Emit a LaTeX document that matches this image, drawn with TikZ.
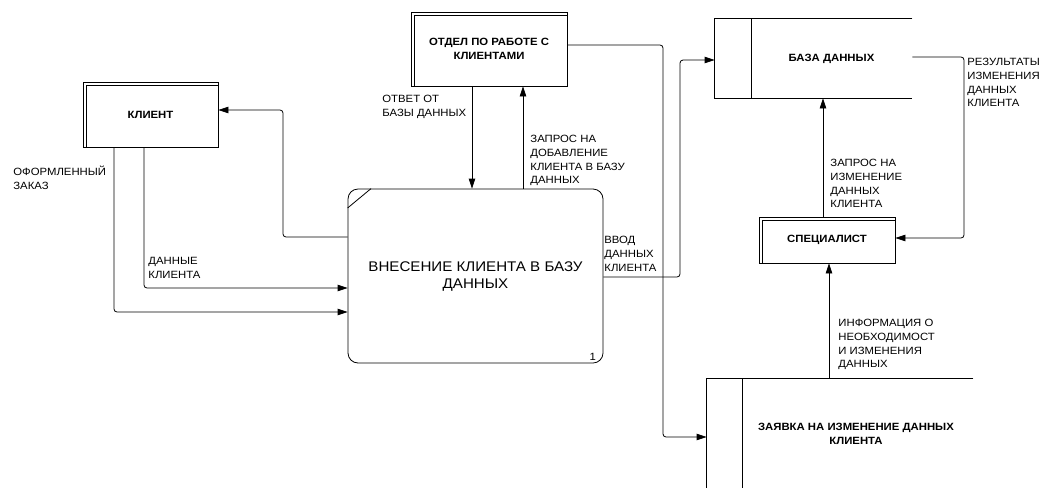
\documentclass[tikz,border=0pt]{standalone}
\usepackage{fontspec}
\setmainfont{Liberation Sans}[FakeStretch=1.08]
\usetikzlibrary{arrows.meta}

\begin{document}
\begin{tikzpicture}[x=1pt,y=-1pt,line width=0.8pt,>={Triangle[length=10pt,width=6.5pt]},
    entity/.style={draw,align=center,font=\fontsize{10.5}{14}\selectfont\bfseries,
        path picture={\draw ([xshift=3pt]path picture bounding box.south west) |- ([yshift=-3pt]path picture bounding box.north east);}},
    process/.style={draw,rounded corners=10pt,align=center,font=\fontsize{14}{17}\selectfont},
    store/.style={inner sep=0pt},
    store text/.style={align=center,font=\fontsize{10.5}{14}\selectfont\bfseries},
    flow/.style={->,rounded corners=3pt},
    lbl/.style={anchor=north west,inner sep=0pt,align=left,font=\fontsize{10.5}{13.7}\selectfont}]
    \useasboundingbox (0,0) rectangle (1048,488);

    \node[entity,minimum width=135pt,minimum height=65pt] (client) at (150.5,114.5) {КЛИЕНТ};
    \node[entity,minimum width=156pt,minimum height=74pt] (dept) at (489,49) {ОТДЕЛ ПО РАБОТЕ С\\КЛИЕНТАМИ};
    \node[entity,minimum width=136pt,minimum height=46pt] (spec) at (827,240) {СПЕЦИАЛИСТ};
    \node[process,minimum width=255pt,minimum height=174pt] (proc) at (475.5,276) {ВНЕСЕНИЕ КЛИЕНТА В БАЗУ\\ДАННЫХ};
    \node[store,minimum width=197pt,minimum height=79pt,
        label={[store text,xshift=18pt]center:БАЗА ДАННЫХ}] (db) at (813.5,58.5) {};
    \node[store,minimum width=266pt,minimum height=109pt,
        label={[store text,xshift=16pt]center:{ЗАЯВКА НА ИЗМЕНЕНИЕ ДАННЫХ\\КЛИЕНТА}}] (req) at (840,433.5) {};

    \draw (proc.north west |- 0,208) -- (proc.north west -| 371,0);
    \node[anchor=south east,inner sep=0pt,font=\fontsize{10.5}{12}\selectfont] (num) at ([xshift=-7pt,yshift=3pt]proc.south east) {1};

    \draw (db.north east) -- (db.north west) -- (db.south west) -- (db.south east);
    \draw ([xshift=37pt]db.north west) -- ([xshift=37pt]db.south west);
    \draw (req.north east) -- (req.north west) -- (req.south west);
    \draw ([xshift=36pt]req.north west) -- ([xshift=36pt]req.south west);

    \draw[flow] (proc.west |- 0,237) -| (283,110) -- (client.east |- 0,110);
    \draw[flow] (client.south -| 144,0) |- (proc.west |- 0,288);
    \draw[flow] (client.south -| 114,0) |- (proc.west |- 0,312);
    \draw[flow] (dept.south -| 472,0) -- (proc.north -| 472,0);
    \draw[flow] (proc.north -| 523,0) -- (dept.south -| 523,0);
    \draw[flow] (proc.east |- 0,277) -| (680,60) -- (db.west |- 0,60);
    \draw[flow] (dept.east |- 0,45) -| (663,437) -- (req.west |- 0,437);
    \draw[flow] (db.east |- 0,57) -| (964,238) -- (spec.east |- 0,238);
    \draw[flow] (spec.north -| 823,0) -- (db.south -| 823,0);
    \draw[flow] (req.north -| 829,0) -- (spec.south -| 829,0);

    \node[lbl] (l1) at (13,166) {ОФОРМЛЕННЫЙ\\ЗАКАЗ};
    \node[lbl] (l2) at (148,257) {ДАННЫЕ\\КЛИЕНТА};
    \node[lbl] (l3) at (382,95) {ОТВЕТ ОТ\\БАЗЫ ДАННЫХ};
    \node[lbl] (l4) at (530,135) {ЗАПРОС НА\\ДОБАВЛЕНИЕ\\КЛИЕНТА В БАЗУ\\ДАННЫХ};
    \node[lbl] (l5) at (604,236) {ВВОД\\ДАННЫХ\\КЛИЕНТА};
    \node[lbl] (l6) at (967,58) {РЕЗУЛЬТАТЫ\\ИЗМЕНЕНИЯ\\ДАННЫХ\\КЛИЕНТА};
    \node[lbl] (l7) at (830,159) {ЗАПРОС НА\\ИЗМЕНЕНИЕ\\ДАННЫХ\\КЛИЕНТА};
    \node[lbl] (l8) at (838,319) {ИНФОРМАЦИЯ О\\НЕОБХОДИМОСТ\\И ИЗМЕНЕНИЯ\\ДАННЫХ};
\end{tikzpicture}
\end{document}
